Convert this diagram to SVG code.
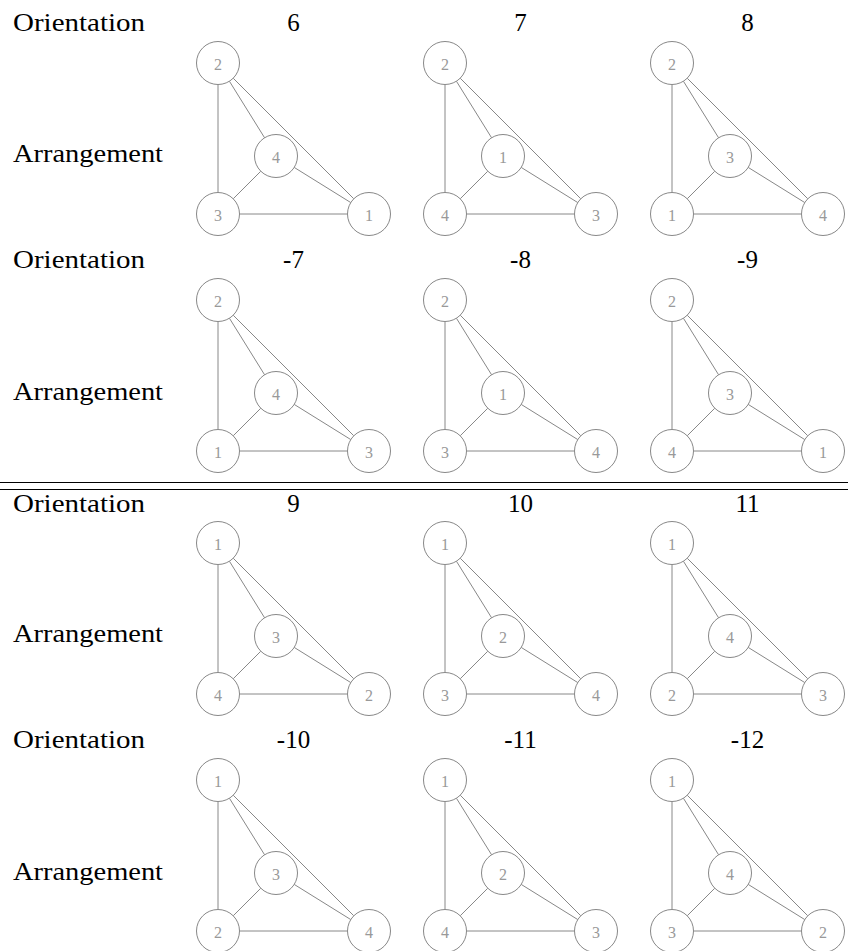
<svg xmlns="http://www.w3.org/2000/svg" width="848" height="951" viewBox="0 0 848 951" font-family="Liberation Serif, DejaVu Serif, Times New Roman, serif">
<style>
.lbl{font-size:25px;fill:#000}
.hd{font-size:25px;fill:#000;text-anchor:middle}
.num{font-size:16px;fill:#999;text-anchor:middle}
.nd circle{fill:#fff;stroke:#888;stroke-width:1}
.edges line{stroke:#888;stroke-width:1}
.rule{stroke:#000;stroke-width:1}
</style>
<rect width="848" height="951" fill="#fff"/>

<!-- row labels -->
<g id="labels" font-family="Liberation Serif, serif">
<text class="lbl" x="13" y="31" textLength="132" lengthAdjust="spacingAndGlyphs">Orientation</text>
<text class="lbl" x="13" y="162" textLength="150" lengthAdjust="spacingAndGlyphs">Arrangement</text>
<text class="lbl" x="13" y="268" textLength="132" lengthAdjust="spacingAndGlyphs">Orientation</text>
<text class="lbl" x="13" y="400" textLength="150" lengthAdjust="spacingAndGlyphs">Arrangement</text>
<text class="lbl" x="13" y="512" textLength="132" lengthAdjust="spacingAndGlyphs">Orientation</text>
<text class="lbl" x="13" y="642" textLength="150" lengthAdjust="spacingAndGlyphs">Arrangement</text>
<text class="lbl" x="13" y="748" textLength="132" lengthAdjust="spacingAndGlyphs">Orientation</text>
<text class="lbl" x="13" y="880" textLength="150" lengthAdjust="spacingAndGlyphs">Arrangement</text>
</g>

<!-- headers -->
<g id="headers" font-family="Liberation Serif, serif">
<text class="hd" x="293.5" y="31">6</text>
<text class="hd" x="520.5" y="31">7</text>
<text class="hd" x="747.5" y="31">8</text>
<text class="hd" x="293.5" y="268">-7</text>
<text class="hd" x="520.5" y="268">-8</text>
<text class="hd" x="747.5" y="268">-9</text>
<text class="hd" x="293.5" y="512">9</text>
<text class="hd" x="520.5" y="512">10</text>
<text class="hd" x="747.5" y="512">11</text>
<text class="hd" x="293.5" y="748">-10</text>
<text class="hd" x="520.5" y="748">-11</text>
<text class="hd" x="747.5" y="748">-12</text>
</g>

<!-- separator rules -->
<g id="rules">
<line class="rule" x1="0" y1="482.5" x2="848" y2="482.5"/>
<line class="rule" x1="0" y1="489.5" x2="848" y2="489.5"/>
</g>

<!-- block: 6 -->
<g id="g6" transform="translate(218,63)">
<g id="g6-edges" class="edges">
<line x1="0" y1="21.5" x2="0" y2="129.5"/><line x1="11.4" y1="18.2" x2="46.6" y2="74.8"/><line x1="15.2" y1="15.2" x2="135.8" y2="135.8"/><line x1="42.8" y1="108.2" x2="15.2" y2="135.8"/><line x1="76.2" y1="104.4" x2="132.8" y2="139.6"/><line x1="21.5" y1="151" x2="129.5" y2="151"/>
</g>
<g id="g6-n2" class="nd"><circle cx="0" cy="0" r="21.5"/><text class="num" x="0" y="6.5">2</text></g>
<g id="g6-n4" class="nd"><circle cx="58" cy="93" r="21.5"/><text class="num" x="58" y="99.5">4</text></g>
<g id="g6-n3" class="nd"><circle cx="0" cy="151" r="21.5"/><text class="num" x="0" y="157.5">3</text></g>
<g id="g6-n1" class="nd"><circle cx="151" cy="151" r="21.5"/><text class="num" x="151" y="157.5">1</text></g>
</g>

<!-- block: 7 -->
<g id="g7" transform="translate(445,63)">
<g id="g7-edges" class="edges">
<line x1="0" y1="21.5" x2="0" y2="129.5"/><line x1="11.4" y1="18.2" x2="46.6" y2="74.8"/><line x1="15.2" y1="15.2" x2="135.8" y2="135.8"/><line x1="42.8" y1="108.2" x2="15.2" y2="135.8"/><line x1="76.2" y1="104.4" x2="132.8" y2="139.6"/><line x1="21.5" y1="151" x2="129.5" y2="151"/>
</g>
<g id="g7-n2" class="nd"><circle cx="0" cy="0" r="21.5"/><text class="num" x="0" y="6.5">2</text></g>
<g id="g7-n1" class="nd"><circle cx="58" cy="93" r="21.5"/><text class="num" x="58" y="99.5">1</text></g>
<g id="g7-n4" class="nd"><circle cx="0" cy="151" r="21.5"/><text class="num" x="0" y="157.5">4</text></g>
<g id="g7-n3" class="nd"><circle cx="151" cy="151" r="21.5"/><text class="num" x="151" y="157.5">3</text></g>
</g>

<!-- block: 8 -->
<g id="g8" transform="translate(672,63)">
<g id="g8-edges" class="edges">
<line x1="0" y1="21.5" x2="0" y2="129.5"/><line x1="11.4" y1="18.2" x2="46.6" y2="74.8"/><line x1="15.2" y1="15.2" x2="135.8" y2="135.8"/><line x1="42.8" y1="108.2" x2="15.2" y2="135.8"/><line x1="76.2" y1="104.4" x2="132.8" y2="139.6"/><line x1="21.5" y1="151" x2="129.5" y2="151"/>
</g>
<g id="g8-n2" class="nd"><circle cx="0" cy="0" r="21.5"/><text class="num" x="0" y="6.5">2</text></g>
<g id="g8-n3" class="nd"><circle cx="58" cy="93" r="21.5"/><text class="num" x="58" y="99.5">3</text></g>
<g id="g8-n1" class="nd"><circle cx="0" cy="151" r="21.5"/><text class="num" x="0" y="157.5">1</text></g>
<g id="g8-n4" class="nd"><circle cx="151" cy="151" r="21.5"/><text class="num" x="151" y="157.5">4</text></g>
</g>

<!-- block: -7 -->
<g id="gm7" transform="translate(218,300)">
<g id="gm7-edges" class="edges">
<line x1="0" y1="21.5" x2="0" y2="129.5"/><line x1="11.4" y1="18.2" x2="46.6" y2="74.8"/><line x1="15.2" y1="15.2" x2="135.8" y2="135.8"/><line x1="42.8" y1="108.2" x2="15.2" y2="135.8"/><line x1="76.2" y1="104.4" x2="132.8" y2="139.6"/><line x1="21.5" y1="151" x2="129.5" y2="151"/>
</g>
<g id="gm7-n2" class="nd"><circle cx="0" cy="0" r="21.5"/><text class="num" x="0" y="6.5">2</text></g>
<g id="gm7-n4" class="nd"><circle cx="58" cy="93" r="21.5"/><text class="num" x="58" y="99.5">4</text></g>
<g id="gm7-n1" class="nd"><circle cx="0" cy="151" r="21.5"/><text class="num" x="0" y="157.5">1</text></g>
<g id="gm7-n3" class="nd"><circle cx="151" cy="151" r="21.5"/><text class="num" x="151" y="157.5">3</text></g>
</g>

<!-- block: -8 -->
<g id="gm8" transform="translate(445,300)">
<g id="gm8-edges" class="edges">
<line x1="0" y1="21.5" x2="0" y2="129.5"/><line x1="11.4" y1="18.2" x2="46.6" y2="74.8"/><line x1="15.2" y1="15.2" x2="135.8" y2="135.8"/><line x1="42.8" y1="108.2" x2="15.2" y2="135.8"/><line x1="76.2" y1="104.4" x2="132.8" y2="139.6"/><line x1="21.5" y1="151" x2="129.5" y2="151"/>
</g>
<g id="gm8-n2" class="nd"><circle cx="0" cy="0" r="21.5"/><text class="num" x="0" y="6.5">2</text></g>
<g id="gm8-n1" class="nd"><circle cx="58" cy="93" r="21.5"/><text class="num" x="58" y="99.5">1</text></g>
<g id="gm8-n3" class="nd"><circle cx="0" cy="151" r="21.5"/><text class="num" x="0" y="157.5">3</text></g>
<g id="gm8-n4" class="nd"><circle cx="151" cy="151" r="21.5"/><text class="num" x="151" y="157.5">4</text></g>
</g>

<!-- block: -9 -->
<g id="gm9" transform="translate(672,300)">
<g id="gm9-edges" class="edges">
<line x1="0" y1="21.5" x2="0" y2="129.5"/><line x1="11.4" y1="18.2" x2="46.6" y2="74.8"/><line x1="15.2" y1="15.2" x2="135.8" y2="135.8"/><line x1="42.8" y1="108.2" x2="15.2" y2="135.8"/><line x1="76.2" y1="104.4" x2="132.8" y2="139.6"/><line x1="21.5" y1="151" x2="129.5" y2="151"/>
</g>
<g id="gm9-n2" class="nd"><circle cx="0" cy="0" r="21.5"/><text class="num" x="0" y="6.5">2</text></g>
<g id="gm9-n3" class="nd"><circle cx="58" cy="93" r="21.5"/><text class="num" x="58" y="99.5">3</text></g>
<g id="gm9-n4" class="nd"><circle cx="0" cy="151" r="21.5"/><text class="num" x="0" y="157.5">4</text></g>
<g id="gm9-n1" class="nd"><circle cx="151" cy="151" r="21.5"/><text class="num" x="151" y="157.5">1</text></g>
</g>

<!-- block: 9 -->
<g id="g9" transform="translate(218,543)">
<g id="g9-edges" class="edges">
<line x1="0" y1="21.5" x2="0" y2="129.5"/><line x1="11.4" y1="18.2" x2="46.6" y2="74.8"/><line x1="15.2" y1="15.2" x2="135.8" y2="135.8"/><line x1="42.8" y1="108.2" x2="15.2" y2="135.8"/><line x1="76.2" y1="104.4" x2="132.8" y2="139.6"/><line x1="21.5" y1="151" x2="129.5" y2="151"/>
</g>
<g id="g9-n1" class="nd"><circle cx="0" cy="0" r="21.5"/><text class="num" x="0" y="6.5">1</text></g>
<g id="g9-n3" class="nd"><circle cx="58" cy="93" r="21.5"/><text class="num" x="58" y="99.5">3</text></g>
<g id="g9-n4" class="nd"><circle cx="0" cy="151" r="21.5"/><text class="num" x="0" y="157.5">4</text></g>
<g id="g9-n2" class="nd"><circle cx="151" cy="151" r="21.5"/><text class="num" x="151" y="157.5">2</text></g>
</g>

<!-- block: 10 -->
<g id="g10" transform="translate(445,543)">
<g id="g10-edges" class="edges">
<line x1="0" y1="21.5" x2="0" y2="129.5"/><line x1="11.4" y1="18.2" x2="46.6" y2="74.8"/><line x1="15.2" y1="15.2" x2="135.8" y2="135.8"/><line x1="42.8" y1="108.2" x2="15.2" y2="135.8"/><line x1="76.2" y1="104.4" x2="132.8" y2="139.6"/><line x1="21.5" y1="151" x2="129.5" y2="151"/>
</g>
<g id="g10-n1" class="nd"><circle cx="0" cy="0" r="21.5"/><text class="num" x="0" y="6.5">1</text></g>
<g id="g10-n2" class="nd"><circle cx="58" cy="93" r="21.5"/><text class="num" x="58" y="99.5">2</text></g>
<g id="g10-n3" class="nd"><circle cx="0" cy="151" r="21.5"/><text class="num" x="0" y="157.5">3</text></g>
<g id="g10-n4" class="nd"><circle cx="151" cy="151" r="21.5"/><text class="num" x="151" y="157.5">4</text></g>
</g>

<!-- block: 11 -->
<g id="g11" transform="translate(672,543)">
<g id="g11-edges" class="edges">
<line x1="0" y1="21.5" x2="0" y2="129.5"/><line x1="11.4" y1="18.2" x2="46.6" y2="74.8"/><line x1="15.2" y1="15.2" x2="135.8" y2="135.8"/><line x1="42.8" y1="108.2" x2="15.2" y2="135.8"/><line x1="76.2" y1="104.4" x2="132.8" y2="139.6"/><line x1="21.5" y1="151" x2="129.5" y2="151"/>
</g>
<g id="g11-n1" class="nd"><circle cx="0" cy="0" r="21.5"/><text class="num" x="0" y="6.5">1</text></g>
<g id="g11-n4" class="nd"><circle cx="58" cy="93" r="21.5"/><text class="num" x="58" y="99.5">4</text></g>
<g id="g11-n2" class="nd"><circle cx="0" cy="151" r="21.5"/><text class="num" x="0" y="157.5">2</text></g>
<g id="g11-n3" class="nd"><circle cx="151" cy="151" r="21.5"/><text class="num" x="151" y="157.5">3</text></g>
</g>

<!-- block: -10 -->
<g id="gm10" transform="translate(218,780)">
<g id="gm10-edges" class="edges">
<line x1="0" y1="21.5" x2="0" y2="129.5"/><line x1="11.4" y1="18.2" x2="46.6" y2="74.8"/><line x1="15.2" y1="15.2" x2="135.8" y2="135.8"/><line x1="42.8" y1="108.2" x2="15.2" y2="135.8"/><line x1="76.2" y1="104.4" x2="132.8" y2="139.6"/><line x1="21.5" y1="151" x2="129.5" y2="151"/>
</g>
<g id="gm10-n1" class="nd"><circle cx="0" cy="0" r="21.5"/><text class="num" x="0" y="6.5">1</text></g>
<g id="gm10-n3" class="nd"><circle cx="58" cy="93" r="21.5"/><text class="num" x="58" y="99.5">3</text></g>
<g id="gm10-n2" class="nd"><circle cx="0" cy="151" r="21.5"/><text class="num" x="0" y="157.5">2</text></g>
<g id="gm10-n4" class="nd"><circle cx="151" cy="151" r="21.5"/><text class="num" x="151" y="157.5">4</text></g>
</g>

<!-- block: -11 -->
<g id="gm11" transform="translate(445,780)">
<g id="gm11-edges" class="edges">
<line x1="0" y1="21.5" x2="0" y2="129.5"/><line x1="11.4" y1="18.2" x2="46.6" y2="74.8"/><line x1="15.2" y1="15.2" x2="135.8" y2="135.8"/><line x1="42.8" y1="108.2" x2="15.2" y2="135.8"/><line x1="76.2" y1="104.4" x2="132.8" y2="139.6"/><line x1="21.5" y1="151" x2="129.5" y2="151"/>
</g>
<g id="gm11-n1" class="nd"><circle cx="0" cy="0" r="21.5"/><text class="num" x="0" y="6.5">1</text></g>
<g id="gm11-n2" class="nd"><circle cx="58" cy="93" r="21.5"/><text class="num" x="58" y="99.5">2</text></g>
<g id="gm11-n4" class="nd"><circle cx="0" cy="151" r="21.5"/><text class="num" x="0" y="157.5">4</text></g>
<g id="gm11-n3" class="nd"><circle cx="151" cy="151" r="21.5"/><text class="num" x="151" y="157.5">3</text></g>
</g>

<!-- block: -12 -->
<g id="gm12" transform="translate(672,780)">
<g id="gm12-edges" class="edges">
<line x1="0" y1="21.5" x2="0" y2="129.5"/><line x1="11.4" y1="18.2" x2="46.6" y2="74.8"/><line x1="15.2" y1="15.2" x2="135.8" y2="135.8"/><line x1="42.8" y1="108.2" x2="15.2" y2="135.8"/><line x1="76.2" y1="104.4" x2="132.8" y2="139.6"/><line x1="21.5" y1="151" x2="129.5" y2="151"/>
</g>
<g id="gm12-n1" class="nd"><circle cx="0" cy="0" r="21.5"/><text class="num" x="0" y="6.5">1</text></g>
<g id="gm12-n4" class="nd"><circle cx="58" cy="93" r="21.5"/><text class="num" x="58" y="99.5">4</text></g>
<g id="gm12-n3" class="nd"><circle cx="0" cy="151" r="21.5"/><text class="num" x="0" y="157.5">3</text></g>
<g id="gm12-n2" class="nd"><circle cx="151" cy="151" r="21.5"/><text class="num" x="151" y="157.5">2</text></g>
</g>
</svg>
